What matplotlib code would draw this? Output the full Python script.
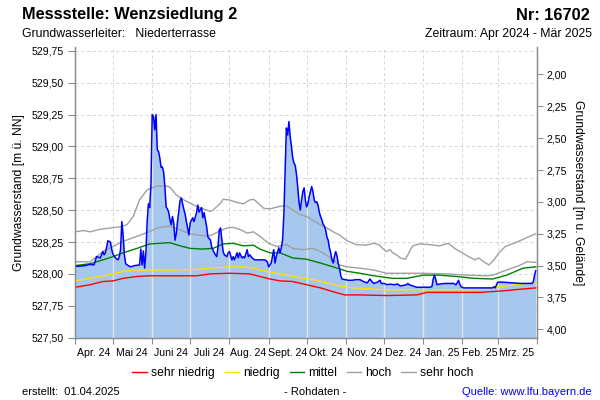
import numpy as np
import matplotlib
matplotlib.use("Agg")
import matplotlib.pyplot as plt
from matplotlib.lines import Line2D
from matplotlib.ticker import FuncFormatter, FixedLocator

plt.rcParams['font.family'] = ['Liberation Sans', 'DejaVu Sans']

# ---------------- data ----------------
start_date = "2024-04-01"
end_date = "2025-04-01"
ground_level = 531.565  # Geländehöhe [m ü. NN]

month_labels = ["Apr. 24", "Mai 24", "Juni 24", "Juli 24", "Aug. 24", "Sept. 24",
                "Okt. 24", "Nov. 24", "Dez. 24", "Jan. 25", "Feb. 25", "Mrz. 25"]
left_ticks = [527.50, 527.75, 528.00, 528.25, 528.50, 528.75, 529.00, 529.25, 529.50, 529.75]
right_ticks = [2.00, 2.25, 2.50, 2.75, 3.00, 3.25, 3.50, 3.75, 4.00]

# measured level (days since start, m ü. NN)
level_day = [0, 3, 8, 12, 15, 17, 19, 20, 21, 22, 23, 24, 25, 26, 28, 29, 30, 31, 32, 34,
             35, 36, 37, 38, 39, 40, 42, 44, 47, 51, 52, 53, 54, 55, 56, 57, 58, 59, 60, 61,
             62, 63, 64, 65, 66, 67, 68, 69, 70, 71, 72, 73, 74, 75, 76, 77, 78, 79, 80, 81,
             82, 83, 84, 86, 87, 88, 89, 90, 91, 93, 94, 96, 97, 98, 100, 101, 102, 104, 105, 107,
             108, 110, 112, 113, 114, 115, 116, 117, 118, 120, 121, 122, 124, 125, 126, 128, 129, 130, 132, 133,
             134, 136, 137, 138, 140, 142, 145, 147, 150, 152, 153, 154, 155, 157, 158, 159, 161, 162, 163, 164,
             165, 166, 167, 168, 169, 170, 171, 172, 173, 174, 175, 176, 177, 178, 179, 180, 181, 182, 183, 184,
             185, 186, 187, 188, 189, 190, 191, 192, 193, 194, 195, 196, 197, 198, 199, 200, 201, 202, 203, 204,
             205, 206, 207, 208, 209, 210, 211, 213, 216, 219, 222, 225, 227, 229, 231, 233, 235, 236, 239, 241,
             242, 244, 247, 249, 252, 255, 257, 262, 263, 264, 267, 270, 275, 280, 282, 283, 284, 285, 286, 288,
             292, 296, 299, 301, 302, 303, 304, 305, 307, 312, 318, 324, 328, 330, 331, 332, 333, 334, 338, 345,
             352, 358, 361, 362, 363, 364]
level_val = [528.06, 528.06, 528.065, 528.075, 528.07, 528.135, 528.13, 528.125, 528.15, 528.175,
             528.15, 528.165, 528.21, 528.26, 528.25, 528.19, 528.155, 528.14, 528.125, 528.11,
             528.135, 528.19, 528.41, 528.305, 528.15, 528.08, 528.065, 528.055, 528.065, 528.07,
             528.195, 528.07, 528.18, 528.045, 528.165, 528.41, 528.55, 528.52, 528.70, 529.25,
             529.235, 529.13, 529.25, 528.975, 528.96, 528.91, 528.835, 528.84, 528.80, 528.685,
             528.525, 528.51, 528.485, 528.425, 528.385, 528.45, 528.40, 528.265, 528.315, 528.41,
             528.495, 528.575, 528.595, 528.505, 528.47, 528.41, 528.36, 528.305, 528.40, 528.44,
             528.41, 528.48, 528.54, 528.485, 528.52, 528.44, 528.48, 528.37, 528.29, 528.265,
             528.21, 528.165, 528.135, 528.21, 528.345, 528.36, 528.265, 528.175, 528.15, 528.135,
             528.165, 528.175, 528.11, 528.135, 528.11, 528.165, 528.125, 528.165, 528.125, 528.135,
             528.125, 528.19, 528.135, 528.15, 528.125, 528.11, 528.11, 528.11, 528.11, 528.095,
             528.055, 528.07, 528.085, 528.19, 528.085, 528.135, 528.205, 528.165, 528.205, 528.265,
             528.465, 528.80, 529.145, 529.09, 529.195, 529.075, 529.00, 528.91, 528.87, 528.85,
             528.78, 528.675, 528.56, 528.50, 528.58, 528.645, 528.675, 528.58, 528.525, 528.55,
             528.605, 528.645, 528.685, 528.645, 528.58, 528.56, 528.565, 528.54, 528.485, 528.45,
             528.425, 528.39, 528.375, 528.345, 528.29, 528.265, 528.205, 528.165, 528.11, 528.085,
             528.14, 528.175, 528.14, 528.08, 528.045, 527.985, 527.96, 527.955, 527.95, 527.95,
             527.955, 527.955, 527.945, 527.935, 527.93, 527.96, 527.935, 527.925, 527.935, 527.95,
             527.925, 527.925, 527.915, 527.92, 527.915, 527.92, 527.905, 527.915, 527.925, 527.915,
             527.905, 527.895, 527.895, 527.895, 527.90, 527.96, 527.99, 527.955, 527.915, 527.92,
             527.925, 527.925, 527.925, 527.915, 527.93, 527.95, 527.92, 527.90, 527.89, 527.89,
             527.89, 527.89, 527.89, 527.89, 527.90, 527.89, 527.915, 527.935, 527.935, 527.93,
             527.925, 527.925, 527.925, 527.935, 527.985, 528.025]

# statistical reference lines (days since start, m ü. NN)
sehr_niedrig_day = [0, 12, 22, 30, 38, 49, 59, 96, 107, 122, 138, 146, 154, 162, 172, 183, 194, 204,
                    213, 225, 246, 270, 278, 304, 320, 336, 352, 364]
sehr_niedrig_val = [527.895, 527.915, 527.94, 527.945, 527.965, 527.98, 527.985, 527.985, 528.00,
                    528.005, 528.00, 527.98, 527.96, 527.945, 527.94, 527.915, 527.89, 527.86,
                    527.835, 527.835, 527.83, 527.835, 527.855, 527.855, 527.855, 527.865, 527.88, 527.89]

niedrig_day = [0, 12, 22, 30, 38, 46, 59, 75, 96, 107, 122, 133, 143, 146, 157, 167, 178, 188,
               199, 209, 220, 236, 246, 278, 309, 325, 336, 352, 364]
niedrig_val = [527.945, 527.965, 527.985, 528.00, 528.02, 528.03, 528.03, 528.03, 528.035, 528.045,
               528.055, 528.055, 528.045, 528.03, 528.01, 527.99, 527.97, 527.955, 527.93, 527.905,
               527.89, 527.88, 527.875, 527.875, 527.875, 527.88, 527.90, 527.92, 527.93]

mittel_day = [0, 12, 22, 30, 38, 49, 59, 67, 75, 83, 91, 101, 109, 117, 125, 133, 141, 146, 154,
              162, 172, 183, 194, 204, 215, 225, 236, 251, 262, 275, 288, 301, 315, 330, 341, 354, 364]
mittel_val = [528.065, 528.08, 528.11, 528.135, 528.165, 528.20, 528.235, 528.24, 528.245, 528.22,
              528.20, 528.195, 528.20, 528.235, 528.24, 528.22, 528.225, 528.195, 528.165, 528.165,
              528.125, 528.115, 528.085, 528.055, 528.02, 528.005, 527.985, 527.965, 527.965, 527.99,
              527.99, 527.98, 527.965, 527.96, 527.99, 528.045, 528.055]

hoch_day = [0, 12, 17, 22, 30, 38, 49, 57, 65, 70, 75, 83, 91, 101, 107, 113, 120, 125, 130, 136,
            141, 146, 153, 159, 167, 172, 180, 188, 196, 204, 209, 215, 225, 236, 246, 273, 294, 309,
            325, 330, 341, 352, 357, 364]
hoch_val = [528.095, 528.095, 528.135, 528.175, 528.215, 528.255, 528.295, 528.325, 528.36, 528.37,
            528.375, 528.345, 528.315, 528.30, 528.30, 528.33, 528.36, 528.365, 528.35, 528.32,
            528.33, 528.295, 528.24, 528.215, 528.23, 528.20, 528.19, 528.20, 528.165, 528.11,
            528.07, 528.055, 528.045, 528.03, 528.005, 528.005, 528.00, 527.99, 527.985, 527.99,
            528.03, 528.07, 528.095, 528.09]

sehr_hoch_day = [0, 7, 12, 20, 28, 36, 41, 46, 51, 57, 65, 72, 75, 80, 86, 96, 107, 109, 115, 117,
                 122, 128, 133, 138, 141, 143, 149, 154, 162, 167, 172, 178, 183, 188, 194, 199, 204,
                 209, 215, 222, 230, 236, 240, 243, 246, 249, 251, 254, 257, 261, 263, 265, 267, 272,
                 280, 288, 295, 300, 306, 311, 316, 319, 323, 327, 331, 335, 340, 348, 356, 364]
sehr_hoch_val = [528.33, 528.34, 528.33, 528.35, 528.36, 528.37, 528.385, 528.45, 528.58, 528.66,
                 528.69, 528.69, 528.68, 528.62, 528.58, 528.53, 528.49, 528.50, 528.555, 528.585,
                 528.58, 528.56, 528.55, 528.58, 528.585, 528.57, 528.515, 528.51, 528.53, 528.535,
                 528.50, 528.465, 528.45, 528.42, 528.385, 528.36, 528.33, 528.305, 528.26, 528.23,
                 528.225, 528.24, 528.23, 528.20, 528.175, 528.19, 528.165, 528.15, 528.125, 528.115,
                 528.15, 528.19, 528.22, 528.235, 528.23, 528.22, 528.24, 528.20, 528.165, 528.135,
                 528.11, 528.125, 528.095, 528.07, 528.11, 528.165, 528.215, 528.245, 528.28, 528.315]

# ---------------- helpers ----------------
t0 = np.datetime64(start_date)
def to_dates(days):
    return t0 + np.array(days, dtype="timedelta64[D]")

month_starts = np.arange(np.datetime64("2024-04"), np.datetime64("2025-05"),
                         dtype="datetime64[M]").astype("datetime64[D]")
month_mids = month_starts[:-1] + (month_starts[1:] - month_starts[:-1]) / 2

def comma(v, pos=None):
    return f"{v:.2f}".replace(".", ",")

# ---------------- figure ----------------
fig = plt.figure(figsize=(6, 4), dpi=100)
ax = fig.add_axes([0.125, 0.155, 0.77, 0.7275])

ylo, yhi = 527.497, 529.78
ax.set_ylim(ylo, yhi)
ax.set_xlim(np.datetime64(start_date), np.datetime64(end_date))

fill_color = "#a6c8ee"
grid_color = "#d4d4d4"
spine_color = "#8c8c8c"

# grid
ax.set_axisbelow(True)
ax.xaxis.set_major_locator(FixedLocator(matplotlib.dates.date2num(month_starts)))
ax.xaxis.set_minor_locator(FixedLocator(matplotlib.dates.date2num(month_mids)))
ax.xaxis.set_major_formatter(FuncFormatter(lambda v, p: ""))
ax.xaxis.set_minor_formatter(FuncFormatter(lambda v, p: month_labels[p] if p is not None and p < len(month_labels) else ""))
ax.tick_params(axis="x", which="minor", length=0, pad=7, labelsize=7.6)
ax.tick_params(axis="x", which="major", length=4, color=spine_color, width=0.8)
ax.set_yticks(left_ticks)
ax.yaxis.set_major_formatter(FuncFormatter(comma))
ax.tick_params(axis="y", length=5, color=spine_color, width=0.8, labelsize=7.6, pad=3)
ax.grid(True, which="major", linestyle=(0, (3, 3)), color=grid_color, linewidth=0.7)

# fill + vertical month lines inside fill
d_level = to_dates(level_day)
poly = ax.fill_between(d_level, ylo - 1, level_val, color=fill_color, linewidth=0, zorder=2)
for ms in month_starts[1:-1]:
    ln = ax.axvline(ms, color="#e4e4e4", linewidth=1.0, zorder=2.5)
    ln.set_clip_path(poly.get_paths()[0], poly.get_transform())

# reference lines
ax.plot(to_dates(sehr_hoch_day), sehr_hoch_val, color="#a0a0a0", lw=1.0, zorder=3)
ax.plot(to_dates(hoch_day), hoch_val, color="#a0a0a0", lw=1.0, zorder=3)
ax.plot(to_dates(mittel_day), mittel_val, color="#008000", lw=1.0, zorder=3)
ax.plot(to_dates(niedrig_day), niedrig_val, color="#ffe000", lw=1.0, zorder=3)
ax.plot(to_dates(sehr_niedrig_day), sehr_niedrig_val, color="#ff0000", lw=1.0, zorder=3)
ax.plot(d_level, level_val, color="#0000ff", lw=1.1, zorder=4)

for s in ["left", "right", "bottom"]:
    ax.spines[s].set_color(spine_color)
    ax.spines[s].set_linewidth(1.0)
ax.spines["top"].set_visible(False)

ax.set_ylabel("Grundwasserstand [m ü. NN]", fontsize=8.7, labelpad=5)

# right axis (depth below ground)
ax2 = ax.twinx()
ax2.set_ylim(ground_level - ylo, ground_level - yhi)
ax2.set_yticks(right_ticks)
ax2.yaxis.set_major_formatter(FuncFormatter(comma))
ax2.tick_params(axis="y", length=4, color=spine_color, width=0.8, labelsize=7.6, pad=3)
for s in ["left", "right", "bottom"]:
    ax2.spines[s].set_color(spine_color)
ax2.spines["top"].set_visible(False)
ax2.set_ylabel("Grundwasserstand [m u. Gelände]", fontsize=8.7, rotation=270, labelpad=12)

# header
fig.text(22 / 600, 1 - 15 / 400, "Messstelle: Wenzsiedlung 2", fontsize=11.8, fontweight="bold",
         va="center", ha="left")
fig.text(590 / 600, 1 - 15 / 400, "Nr: 16702", fontsize=11.8, fontweight="bold", va="center", ha="right")
fig.text(22 / 600, 1 - 34 / 400, "Grundwasserleiter:   Niederterrasse", fontsize=8.8, va="center", ha="left")
fig.text(592 / 600, 1 - 34 / 400, "Zeitraum: Apr 2024 - Mär 2025", fontsize=8.8, va="center", ha="right")

# legend
handles = [Line2D([], [], color="#ff0000", lw=1.0),
           Line2D([], [], color="#ffe000", lw=1.0),
           Line2D([], [], color="#008000", lw=1.0),
           Line2D([], [], color="#a0a0a0", lw=1.0),
           Line2D([], [], color="#a0a0a0", lw=1.0)]
labels = ["sehr niedrig", "niedrig", "mittel", "hoch", "sehr hoch"]
fig.legend(handles, labels, loc="center", bbox_to_anchor=(303 / 600, 1 - 373 / 400), ncol=5,
           frameon=False, fontsize=8.7, handlelength=1.2, handletextpad=0.35, columnspacing=0.8,
           borderpad=0, borderaxespad=0)

# footer
fig.text(22 / 600, 1 - 392 / 400, "erstellt:  01.04.2025", fontsize=8, va="center", ha="left")
fig.text(315 / 600, 1 - 392 / 400, "- Rohdaten -", fontsize=8, va="center", ha="center")
fig.text(592 / 600, 1 - 392 / 400, "Quelle: www.lfu.bayern.de", fontsize=8, va="center", ha="right",
         color="#0000ff")

fig.savefig("out.png", dpi=100)
